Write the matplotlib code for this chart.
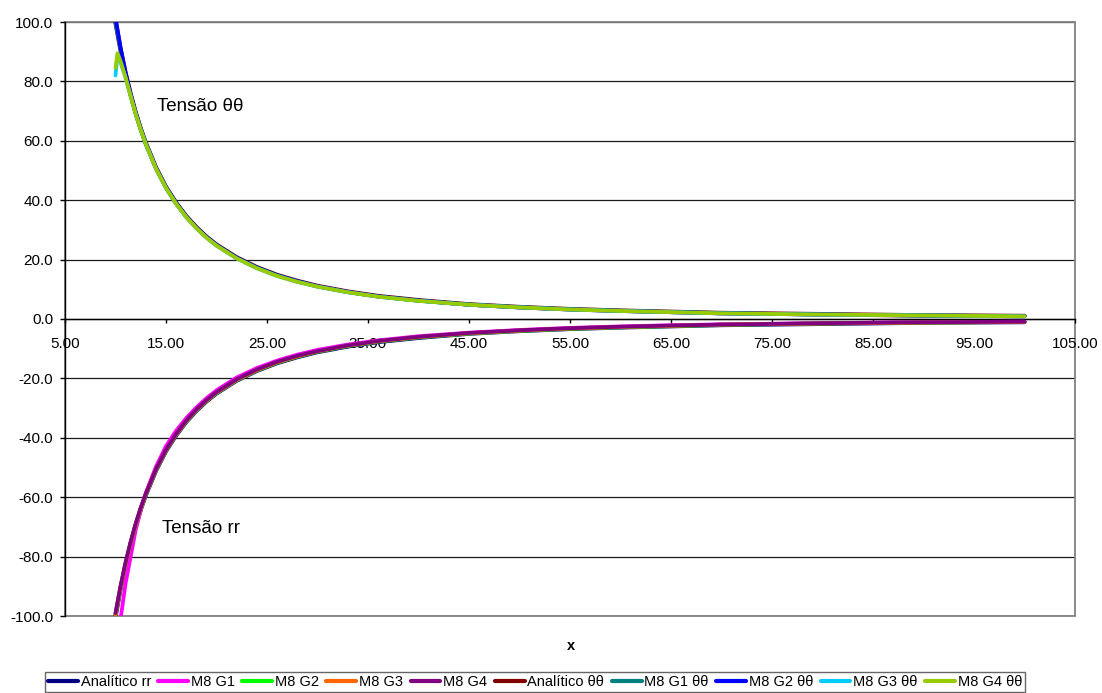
import matplotlib
matplotlib.use("Agg")
import matplotlib.pyplot as plt
from matplotlib.patches import Rectangle

# Radial positions (x) of the sampled stresses
x = [10, 10.5, 11, 11.5, 12, 12.5, 13, 14, 15, 16, 17, 18, 19, 20, 22, 24, 26,
     28, 30, 33, 36, 40, 45, 50, 55, 60, 65, 70, 80, 90, 100]
# Positions for the G3/G4 hoop-stress series (extra sample near the hole)
x_peak = [10, 10.2, 10.5, 11, 11.5, 12, 12.5, 13, 14, 15, 16, 17, 18, 19, 20, 22,
          24, 26, 28, 30, 33, 36, 40, 45, 50, 55, 60, 65, 70, 80, 90, 100]

# Radial stress (rr)
analitico_rr = [-100.0, -90.7, -82.6, -75.6, -69.4, -64.0, -59.2, -51.0, -44.4, -39.1,
                -34.6, -30.9, -27.7, -25.0, -20.7, -17.4, -14.8, -12.8, -11.1, -9.2,
                -7.7, -6.3, -4.9, -4.0, -3.3, -2.8, -2.4, -2.0, -1.6, -1.2, -1.0]
m8_g1 = [-120.0, -101.0, -89.0, -80.0, -71.0, -64.5, -58.6, -49.8, -42.8, -37.6,
         -33.4, -29.8, -26.7, -24.0, -19.7, -16.5, -14.0, -12.0, -10.4, -8.6,
         -7.2, -5.8, -4.6, -3.7, -3.0, -2.5, -2.1, -1.8, -1.4, -1.1, -0.9]
m8_g2 = [-99.8, -90.5, -82.4, -75.4, -69.3, -63.9, -59.1, -50.9, -44.3, -39.0,
         -34.5, -30.8, -27.6, -24.9, -20.6, -17.3, -14.7, -12.7, -11.0, -9.1,
         -7.6, -6.2, -4.9, -4.0, -3.3, -2.8, -2.4, -2.0, -1.5, -1.2, -1.0]
m8_g3 = [-99.6, -90.4, -82.3, -75.3, -69.2, -63.8, -59.0, -50.8, -44.2, -38.9,
         -34.4, -30.7, -27.5, -24.8, -20.5, -17.2, -14.6, -12.6, -10.9, -9.0,
         -7.5, -6.1, -4.8, -3.9, -3.2, -2.7, -2.3, -1.9, -1.5, -1.2, -1.0]
m8_g4 = [-99.0, -89.9, -81.9, -75.0, -68.9, -63.5, -58.8, -50.6, -44.0, -38.7,
         -34.2, -30.5, -27.3, -24.6, -20.3, -17.0, -14.4, -12.4, -10.8, -8.9,
         -7.4, -6.0, -4.7, -3.8, -3.1, -2.6, -2.2, -1.9, -1.4, -1.1, -0.9]

# Hoop stress (θθ)
analitico_tt = [100.0, 90.7, 82.6, 75.6, 69.4, 64.0, 59.2, 51.0, 44.4, 39.1,
                34.6, 30.9, 27.7, 25.0, 20.7, 17.4, 14.8, 12.8, 11.1, 9.2,
                7.7, 6.3, 4.9, 4.0, 3.3, 2.8, 2.4, 2.0, 1.6, 1.2, 1.0]
m8_g1_tt = [99.8, 90.5, 82.4, 75.4, 69.3, 63.9, 59.1, 50.9, 44.3, 39.0,
            34.5, 30.8, 27.6, 24.9, 20.6, 17.3, 14.7, 12.7, 11.0, 9.1,
            7.6, 6.2, 4.9, 4.0, 3.3, 2.8, 2.4, 2.0, 1.5, 1.2, 1.0]
m8_g2_tt = [101.5, 91.4, 82.9, 75.7, 69.4, 63.9, 59.1, 50.9, 44.3, 39.0,
            34.5, 30.8, 27.6, 24.9, 20.6, 17.3, 14.7, 12.7, 11.0, 9.1,
            7.6, 6.2, 4.8, 3.9, 3.2, 2.7, 2.3, 1.9, 1.5, 1.2, 0.9]
m8_g3_tt = [82.0, 89.0, 86.5, 81.2, 75.0, 69.0, 63.7, 58.9, 50.7, 44.1, 38.8,
            34.3, 30.6, 27.4, 24.7, 20.4, 17.1, 14.5, 12.5, 10.9, 9.0,
            7.5, 6.1, 4.8, 3.9, 3.2, 2.7, 2.3, 1.9, 1.5, 1.2, 0.9]
m8_g4_tt = [84.5, 89.5, 86.8, 81.3, 75.1, 69.0, 63.7, 58.9, 50.7, 44.1, 38.8,
            34.3, 30.6, 27.4, 24.7, 20.4, 17.1, 14.5, 12.5, 10.9, 9.0,
            7.5, 6.1, 4.8, 3.9, 3.2, 2.7, 2.3, 1.9, 1.5, 1.2, 0.9]

labels = ["Analítico rr", "M8 G1", "M8 G2", "M8 G3", "M8 G4",
          "Analítico θθ", "M8 G1 θθ", "M8 G2 θθ", "M8 G3 θθ", "M8 G4 θθ"]
colors = ["#000080", "#FF00FF", "#00FF00", "#FF6600", "#800080",
          "#800000", "#008080", "#0000FF", "#00CCFF", "#99CC00"]

xticks = [5, 15, 25, 35, 45, 55, 65, 75, 85, 95, 105]
yticks = [-100, -80, -60, -40, -20, 0, 20, 40, 60, 80, 100]

plt.rcParams["font.family"] = ["Liberation Sans", "DejaVu Sans"]

fig = plt.figure(figsize=(11.02, 6.93), dpi=100)
ax = fig.add_axes([65 / 1102, 1 - 616 / 693, 1010 / 1102, 594 / 693])

series = [
    (x, analitico_rr), (x, m8_g1), (x, m8_g2), (x, m8_g3), (x, m8_g4),
    (x, analitico_tt), (x, m8_g1_tt), (x, m8_g2_tt), (x_peak, m8_g3_tt), (x_peak, m8_g4_tt),
]
handles = []
for i, ((xs, ys), lab, col) in enumerate(zip(series, labels, colors)):
    lw = 3.2 if lab.startswith("Analítico") else 2.7
    h, = ax.plot(xs, ys, color=col, lw=lw, label=lab, zorder=3 + i * 0.1,
                 solid_capstyle="round", solid_joinstyle="round")
    handles.append(h)

ax.set_xlim(5, 105)
ax.set_ylim(-100, 100)
ax.set_xticks(xticks)
ax.set_xticklabels([f"{v:.2f}" for v in xticks])
ax.set_yticks(yticks)
ax.set_yticklabels([f"{v:.1f}" for v in yticks])

# Horizontal gridlines
for yv in yticks:
    ax.axhline(yv, color="#1a1a1a", lw=0.9, zorder=1)

# Axis lines: x-axis crosses at y = 0
for s in ["top", "right"]:
    ax.spines[s].set_visible(False)
ax.spines["bottom"].set_position(("data", 0))
ax.spines["bottom"].set_color("black")
ax.spines["bottom"].set_linewidth(1.0)
ax.spines["left"].set_linewidth(1.0)
ax.spines["bottom"].set_zorder(2)
ax.spines["left"].set_zorder(2)

# Plot area border
ax.add_patch(Rectangle((0, 0), 1, 1, transform=ax.transAxes, fill=False,
                       edgecolor="#808080", lw=1.3, zorder=1.5, clip_on=False))

ax.tick_params(axis="x", direction="out", length=3, width=1, labelsize=11, pad=10)
ax.tick_params(axis="y", direction="out", length=3.6, width=1, labelsize=11, pad=5)

ax.text(14.1, 71.4, "Tensão θθ", fontsize=13.5, va="center", ha="left")
ax.text(14.6, -70.4, "Tensão rr", fontsize=13.5, va="center", ha="left")

fig.text(571 / 1102, 1 - 646 / 693, "x", fontsize=10.5, fontweight="bold",
         ha="center", va="center")

leg = fig.legend(handles=handles, labels=labels, loc="upper center",
                 bbox_to_anchor=(535 / 1102, 1 - 672 / 693), ncol=10, fontsize=10.5,
                 frameon=True, fancybox=False, edgecolor="#404040",
                 handlelength=2.05, handletextpad=0.2, columnspacing=0.5,
                 borderpad=0.2, borderaxespad=0.0)
leg.get_frame().set_linewidth(1.0)
for line in leg.get_lines():
    line.set_solid_capstyle("round")
    line.set_linewidth(3.0)

fig.savefig("out.png", dpi=100)
